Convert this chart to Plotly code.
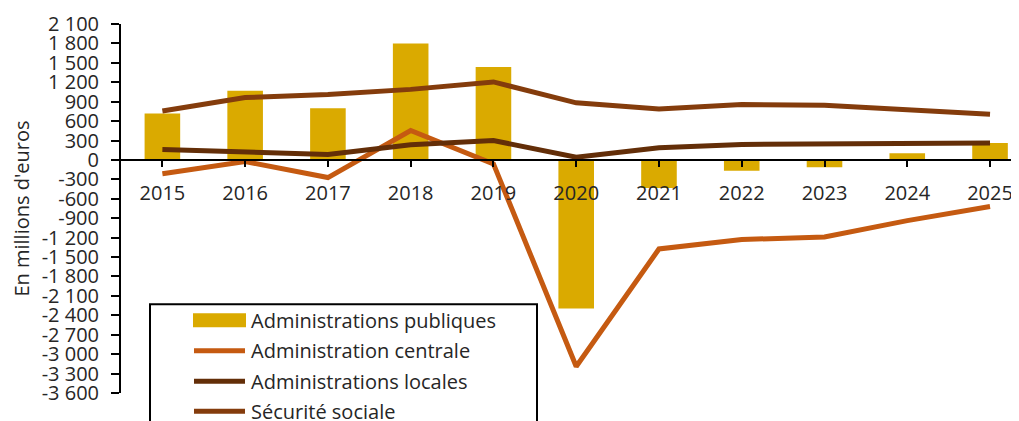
import plotly.graph_objects as go

years = ["2015", "2016", "2017", "2018", "2019", "2020", "2021", "2022", "2023", "2024", "2025"]
adm_publiques = [716, 1070, 800, 1800, 1435, -2295, -435, -165, -112, 105, 260]
adm_centrale = [-214, -25, -272, 455, -60, -3190, -1375, -1230, -1190, -937, -720]
adm_locales = [163, 130, 84, 234, 300, 42, 189, 240, 245, 260, 260]
securite_sociale = [756, 963, 1011, 1090, 1205, 882, 787, 855, 845, 782, 705]

series_names = ["Administrations publiques", "Administration centrale",
                "Administrations locales", "Sécurité sociale"]
ytick_vals = list(range(-3600, 2101, 300))
ytick_text = [f"{v:,}".replace(",", " ") for v in ytick_vals]

C_BAR = "#DAAA00"
C_CENT = "#C55A11"
C_LOC = "#632E08"
C_SEC = "#843C0C"
TXT = "#262626"
FONT = "Open Sans"

# the page body has an 8px margin: the figure is drawn 8px in from the window's corner
OFF = 8
W, H = 1019 - OFF, 421 - OFF
PLOT_L, PLOT_T, PLOT_B = 121, 24, 392.7  # window pixels of the plot area
ML = PLOT_L - OFF
MT = PLOT_T - OFF
MB = H - (PLOT_B - OFF)
MR = 0
YMIN, YMAX = -3600, 2100

fig = go.Figure()
fig.add_trace(go.Bar(x=years, y=adm_publiques, name=series_names[0],
                     marker=dict(color=C_BAR, line=dict(width=0)), showlegend=False))
fig.add_trace(go.Scatter(x=years, y=adm_centrale, name=series_names[1], mode="lines",
                         line=dict(color=C_CENT, width=5), showlegend=False))
fig.add_trace(go.Scatter(x=years, y=adm_locales, name=series_names[2], mode="lines",
                         line=dict(color=C_LOC, width=5), showlegend=False))
fig.add_trace(go.Scatter(x=years, y=securite_sociale, name=series_names[3], mode="lines",
                         line=dict(color=C_SEC, width=5), showlegend=False))

pw = W - ML - MR
ph = H - MT - MB


def px_x(px):
    return (px - OFF - ML) / pw


def px_y(py):
    return (H - MB - (py - OFF)) / ph


# manual legend (box, symbols, labels)
shapes = [dict(type="rect", xref="paper", yref="paper",
               x0=px_x(150), x1=px_x(537), y0=px_y(445), y1=px_y(304),
               line=dict(color="black", width=2), fillcolor="white", layer="above")]
annotations = []
row_y = [320, 350.5, 381, 411]
colors = [C_BAR, C_CENT, C_LOC, C_SEC]
for i, (name, col, ry) in enumerate(zip(series_names, colors, row_y)):
    if i == 0:
        shapes.append(dict(type="rect", xref="paper", yref="paper",
                           x0=px_x(193), x1=px_x(246), y0=px_y(ry + 7), y1=px_y(ry - 7),
                           line=dict(width=0), fillcolor=col, layer="above"))
    else:
        shapes.append(dict(type="line", xref="paper", yref="paper",
                           x0=px_x(194), x1=px_x(245), y0=px_y(ry), y1=px_y(ry),
                           line=dict(color=col, width=5), layer="above"))
    annotations.append(dict(text=name, xref="paper", yref="paper", x=px_x(249), y=px_y(ry),
                            xanchor="left", yanchor="middle", showarrow=False,
                            font=dict(family=FONT, size=20, color=TXT)))

fig.update_layout(
    width=W, height=H,
    margin=dict(l=ML, r=MR, t=MT, b=MB, pad=0, autoexpand=False),
    paper_bgcolor="white", plot_bgcolor="white",
    bargap=0.57,
    font=dict(family=FONT, size=20, color=TXT),
    shapes=shapes, annotations=annotations,
    xaxis=dict(type="category", range=[-0.5, 10.35], anchor="free",
               position=(0 - YMIN) / (YMAX - YMIN), automargin=False,
               showline=True, linecolor="black", linewidth=2,
               ticks="outside", ticklen=6, tickwidth=2, tickcolor="black",
               ticklabelstandoff=9,
               showgrid=False, zeroline=False,
               tickfont=dict(family=FONT, size=20, color=TXT)),
    yaxis=dict(range=[YMIN, YMAX], tickvals=ytick_vals, ticktext=ytick_text,
               automargin=False,
               showline=True, linecolor="black", linewidth=2,
               ticks="outside", ticklen=8, tickwidth=2, tickcolor="black",
               ticklabelstandoff=8,
               showgrid=False, zeroline=False,
               tickfont=dict(family=FONT, size=20, color=TXT),
               title=dict(text="En millions d'euros", standoff=11,
                          font=dict(family=FONT, size=20, color=TXT))),
)

fig.write_html("out.html")
